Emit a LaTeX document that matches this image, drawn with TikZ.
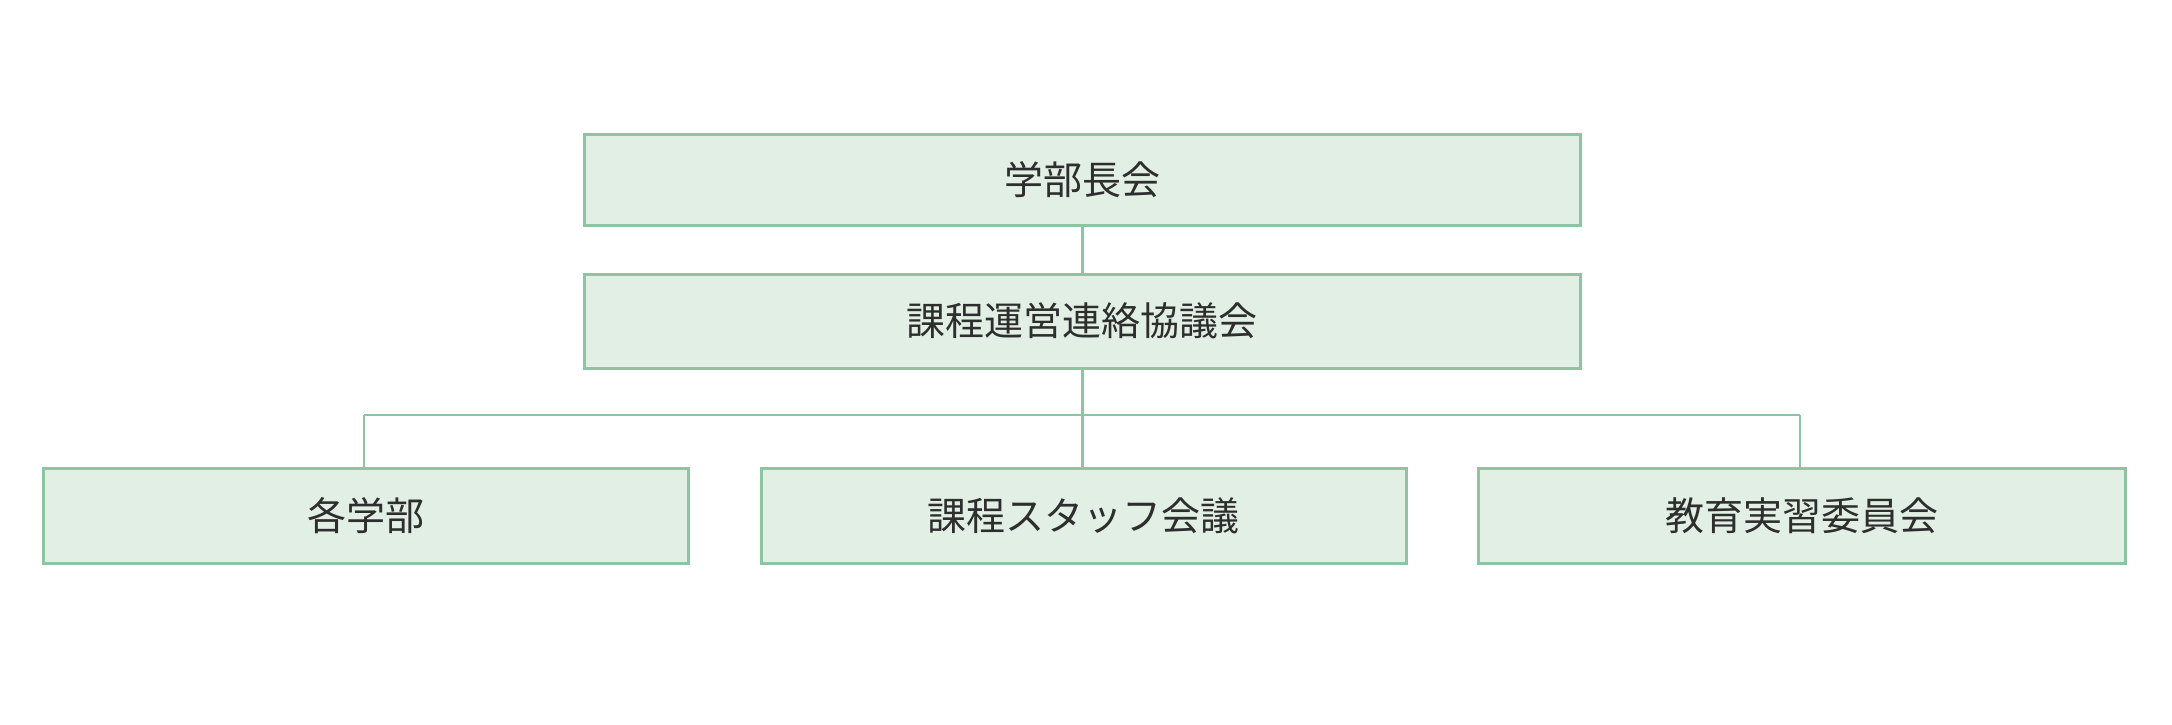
\documentclass[tikz,border=0pt]{standalone}
\usepackage{fontspec}
\newfontfamily\cjk{Noto Sans CJK JP}
\definecolor{boxline}{HTML}{8EC4A2}
\definecolor{boxfill}{HTML}{E1EFE5}
\definecolor{txt}{HTML}{2E2E2E}
\begin{document}
\begin{tikzpicture}[x=1pt,y=-1pt,
  orgbox/.style={draw=boxline, fill=boxfill, line width=2.5pt, anchor=north west, inner sep=0pt,
     font=\cjk\fontsize{39}{46}\selectfont, text=txt},
  link/.style={draw=boxline, line width=2.5pt}]
\fill[white] (0,0) rectangle (2172,724);
\useasboundingbox (0,0) rectangle (2172,724);
\node[orgbox, minimum width=996pt, minimum height=91pt] (top) at (583,133) {学部長会};
\node[orgbox, minimum width=996pt, minimum height=94pt] (mid) at (583,273) {課程運営連絡協議会};
\node[orgbox, minimum width=645pt, minimum height=95pt] (b1) at (42,467) {各学部};
\node[orgbox, minimum width=645pt, minimum height=95pt] (b2) at (760,467) {課程スタッフ会議};
\node[orgbox, minimum width=647pt, minimum height=95pt] (b3) at (1477,467) {教育実習委員会};
\coordinate (hl) at (364,415);
\coordinate (hr) at (1800,415);
\draw[link] (top.south) -- (mid.north);
\draw[link] (mid.south) -- (mid.south |- b2.north);
\draw[link] (hl) -- (hr);
\draw[link] (hl) -- (hl |- b1.north);
\draw[link] (hr) -- (hr |- b3.north);
\end{tikzpicture}
\end{document}
